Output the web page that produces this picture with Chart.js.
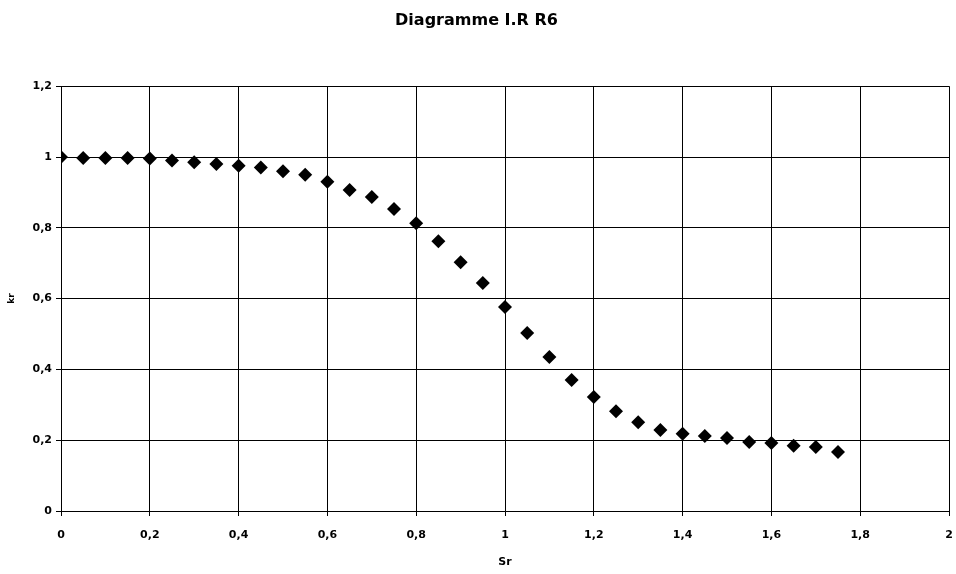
<!DOCTYPE html>
<html>
<head>
<meta charset="utf-8">
<script src="https://cdn.jsdelivr.net/npm/chart.js@4"></script>
<style>
  body { margin: 0; background: #fff; }
</style>
</head>
<body>
<canvas id="chartIRR6" width="956" height="574"></canvas>
<script>
// Sr values (x) and kr values (y)
const sr = [0, 0.05, 0.1, 0.15, 0.2, 0.25, 0.3, 0.35, 0.4, 0.45, 0.5, 0.55,
            0.6, 0.65, 0.7, 0.75, 0.8, 0.85, 0.9, 0.95, 1, 1.05, 1.1, 1.15,
            1.2, 1.25, 1.3, 1.35, 1.4, 1.45, 1.5, 1.55, 1.6, 1.65, 1.7, 1.75];
const kr = [1.0, 0.997, 0.997, 0.997, 0.996, 0.99, 0.985, 0.98, 0.975, 0.97, 0.96, 0.95,
            0.93, 0.907, 0.887, 0.853, 0.813, 0.762, 0.703, 0.644, 0.576, 0.503, 0.435, 0.37,
            0.322, 0.282, 0.251, 0.229, 0.218, 0.212, 0.206, 0.195, 0.192, 0.184, 0.181, 0.167];

const titleText = 'Diagramme I.R R6';
const xTitle = 'Sr';
const yTitle = 'kr';

const points = sr.map((x, i) => ({ x: x, y: kr[i] }));

// ticks use a decimal comma, like the original
function commaTick(v) {
    return (Math.round(v * 10) / 10).toString().replace('.', ',');
}

const family = '"DejaVu Sans", Arial, sans-serif';
const font = { family: family, weight: 'bold', size: 11 };

var ctx = document.getElementById('chartIRR6').getContext('2d');
var chartIRR6 = new Chart(ctx, {
    type: 'scatter',
    data: {
        datasets: [{
            label: yTitle,
            data: points,
            pointStyle: 'rectRot',
            pointRadius: 7,
            pointHoverRadius: 7,
            backgroundColor: '#000',
            borderColor: '#000',
            borderWidth: 0
        }]
    },
    options: {
        responsive: false,
        animation: false,
        layout: { autoPadding: false, padding: { left: 0, right: 3, top: 0, bottom: 0 } },
        plugins: {
            legend: { display: false },
            tooltip: { enabled: false },
            title: {
                display: true,
                text: titleText,
                color: '#000',
                font: { family: family, weight: 'bold', size: 16 },
                padding: { top: 11, bottom: 56 }
            }
        },
        scales: {
            x: {
                type: 'linear',
                min: 0,
                max: 2,
                ticks: { stepSize: 0.2, color: '#000', font: font, padding: 13, callback: commaTick, maxRotation: 0 },
                grid: { color: '#000', lineWidth: 1, tickLength: 5 },
                border: { color: '#000', width: 1 },
                title: { display: true, text: xTitle, color: '#000', font: font, padding: { top: 0, bottom: 5 } },
                afterFit: (scale) => { scale.height = 63; scale.paddingRight = 7; }
            },
            y: {
                min: 0,
                max: 1.2,
                ticks: { stepSize: 0.2, color: '#000', font: font, padding: 4, callback: commaTick },
                grid: { color: '#000', lineWidth: 1, tickLength: 5 },
                border: { color: '#000', width: 1 },
                title: { display: true, text: yTitle, color: '#000', font: { family: family, weight: 'bold', size: 9 }, padding: { top: 6, bottom: 0 } },
                afterFit: (scale) => { scale.width = 61; }
            }
        }
    }
});
</script>
</body>
</html>
